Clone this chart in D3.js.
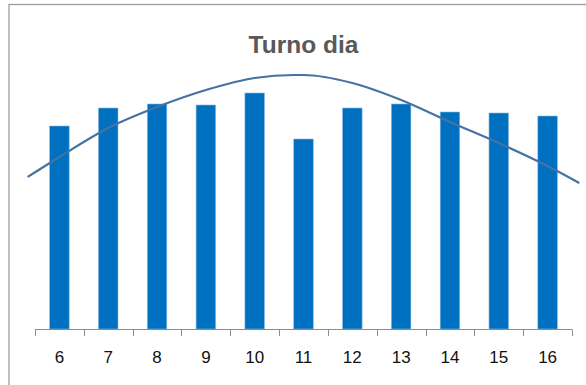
<!DOCTYPE html>
<html>
<head>
<meta charset="utf-8">
<script src="https://cdn.jsdelivr.net/npm/d3@7/dist/d3.min.js"></script>
<style>
  html, body { margin: 0; padding: 0; background: #ffffff; }
  svg { display: block; }
</style>
</head>
<body>
<div id="chart"></div>
<script>
// ---- data ----
const title = "Turno dia";
const categories = ["6", "7", "8", "9", "10", "11", "12", "13", "14", "15", "16"];
const values = [203, 221, 225, 224, 236, 190, 221, 225, 217, 216, 213];
// trendline: position along the category axis (in category units) and value
const trendX = [5.35, 6, 7, 8, 9, 10, 10.8, 11, 12, 13, 14, 15, 16, 16.65];
const trendY = [152, 172, 201, 222, 239, 251, 254, 254, 246, 229, 207, 186, 163, 146];
const yDomain = [0, 300];

// ---- layout ----
const W = 586, H = 385;
const plot = { left: 35, right: 572, top: 29, bottom: 329 };

const svg = d3.select("#chart").append("svg")
  .attr("width", W).attr("height", H);

svg.append("rect").attr("x", 0).attr("y", 0).attr("width", W).attr("height", H).attr("fill", "#fff");

// chart border (extends past the window on right/bottom)
svg.append("rect")
  .attr("x", 9).attr("y", 4.5)
  .attr("width", 700).attr("height", 500)
  .attr("fill", "none")
  .attr("stroke", "#9d9d9d")
  .attr("stroke-width", 1.3);

const x = d3.scaleBand()
  .domain(categories)
  .range([plot.left, plot.right])
  .paddingInner(0.6)
  .paddingOuter(0.3);

const y = d3.scaleLinear().domain(yDomain).range([plot.bottom, plot.top]);

// numeric position for trendline: category c -> center of its band
const firstCenter = x(categories[0]) + x.bandwidth() / 2;
const step = x.step();
const xNum = d3.scaleLinear()
  .domain([+categories[0], +categories[0] + 1])
  .range([firstCenter, firstCenter + step]);

// title
svg.append("text")
  .attr("x", (plot.left + plot.right) / 2)
  .attr("y", 53)
  .attr("text-anchor", "middle")
  .attr("font-family", "'Liberation Sans', Arial, sans-serif")
  .attr("font-weight", "bold")
  .attr("font-size", 24.5)
  .attr("fill", "#595959")
  .text(title);

// bars
svg.append("g").selectAll("rect")
  .data(values)
  .join("rect")
  .attr("x", (d, i) => x(categories[i]))
  .attr("y", d => y(d))
  .attr("width", x.bandwidth())
  .attr("height", d => y(0) - y(d))
  .attr("fill", "#0070c0")
  .attr("stroke", "#8ab6e0")
  .attr("stroke-width", 0.6);

// axis
const axisG = svg.append("g")
  .attr("transform", `translate(0,${plot.bottom})`);
const axis = d3.axisBottom(x).tickSize(0).tickPadding(0);
axisG.call(axis);
axisG.select(".domain").remove();
axisG.append("line")
  .attr("x1", plot.left).attr("x2", plot.right)
  .attr("y1", 0.5).attr("y2", 0.5)
  .attr("stroke", "#8c8c8c").attr("stroke-width", 1);
// tick marks at band boundaries
const bounds = categories.map(c => x(c) - x.step() * x.paddingInner() / 2);
bounds.push(plot.right);
axisG.selectAll("line.tk")
  .data(bounds)
  .join("line")
  .attr("class", "tk")
  .attr("x1", d => Math.round(d) + 0.5).attr("x2", d => Math.round(d) + 0.5)
  .attr("y1", 0.5).attr("y2", 7)
  .attr("stroke", "#8c8c8c").attr("stroke-width", 1);
axisG.selectAll(".tick line").remove();
axisG.selectAll(".tick text")
  .attr("y", 34)
  .attr("dy", 0)
  .attr("font-family", "'Liberation Sans', Arial, sans-serif")
  .attr("font-size", 17)
  .attr("fill", "#111");

// trendline
const trend = trendX.map((t, i) => [xNum(t), y(trendY[i])]);
svg.append("path")
  .datum(trend)
  .attr("d", d3.line().curve(d3.curveMonotoneX))
  .attr("fill", "none")
  .attr("stroke", "#4472a4")
  .attr("stroke-width", 2.2)
  .attr("stroke-linecap", "butt");
</script>
</body>
</html>
